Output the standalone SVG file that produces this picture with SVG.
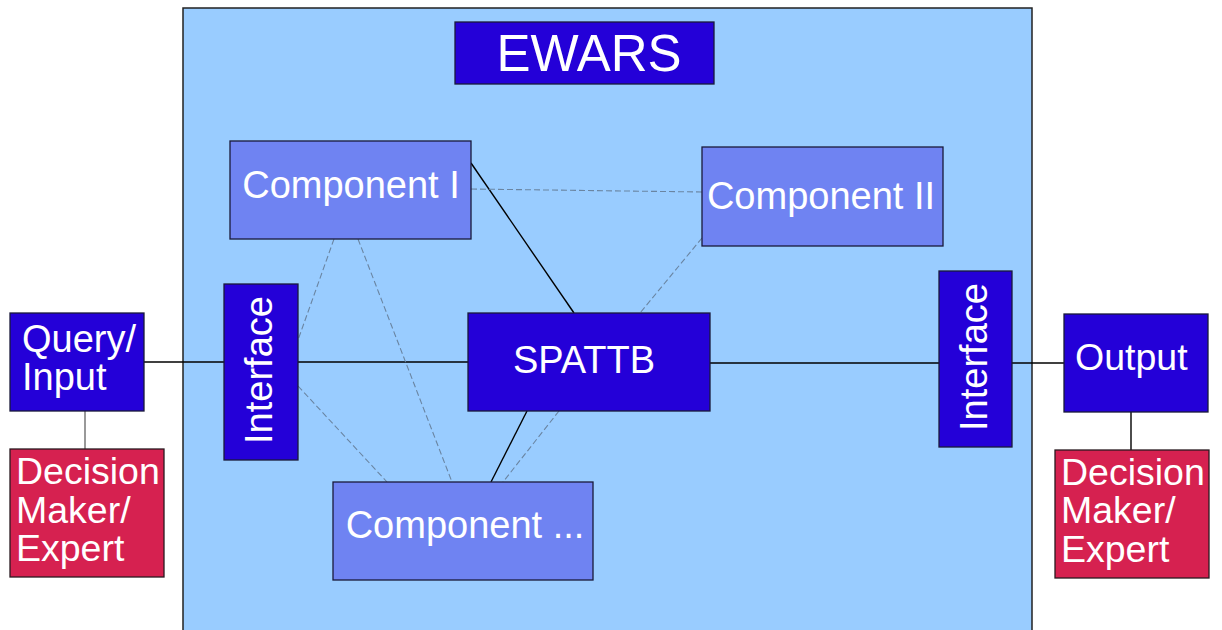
<svg xmlns="http://www.w3.org/2000/svg" width="1222" height="630" viewBox="0 0 1222 630">
  <style>
    .dark { fill: #2400d8; stroke: #1a1a3a; stroke-width: 1.3; }
    .comp { fill: #6f83f2; stroke: #1a1a3a; stroke-width: 1.3; }
    .role { fill: #d62150; stroke: #2a1a20; stroke-width: 1.3; }
    .lbl { font-family: "Liberation Sans", Arial, sans-serif; font-size: 38px; fill: #ffffff; }
    .big { font-size: 51px; }
    .role-lbl { font-size: 37.5px; }
    .solid { stroke: #000000; stroke-width: 1.4; fill: none; }
    .grey { stroke: #555555; stroke-width: 1.2; fill: none; }
    .dash { stroke: #6a85a2; stroke-width: 1.1; stroke-dasharray: 6 3; fill: none; }
  </style>

  <rect width="1222" height="630" fill="#ffffff"/>

  <!-- system boundary -->
  <g id="ewars-frame">
    <rect x="183" y="8" width="849" height="640" fill="#99ccff" stroke="#222222" stroke-width="1.5"/>
  </g>

  <!-- connectors -->
  <g id="connectors">
    <line class="solid" x1="144" y1="362" x2="224" y2="362"/>
    <line class="solid" x1="298" y1="362" x2="468" y2="362"/>
    <line class="solid" x1="710" y1="363" x2="939" y2="363"/>
    <line class="solid" x1="1012" y1="363" x2="1064" y2="363"/>
    <line class="grey" x1="85" y1="411" x2="85" y2="449"/>
    <line class="solid" x1="1131" y1="412" x2="1131" y2="450"/>
    <line class="solid" x1="471" y1="163" x2="574" y2="313"/>
    <line class="solid" x1="527" y1="411" x2="491" y2="482"/>
    <line class="dash" x1="471" y1="189" x2="702" y2="192"/>
    <line class="dash" x1="702" y1="238" x2="640" y2="313"/>
    <line class="dash" x1="334" y1="239" x2="298" y2="340"/>
    <line class="dash" x1="358" y1="239" x2="452" y2="482"/>
    <line class="dash" x1="298" y1="386" x2="387" y2="482"/>
    <line class="dash" x1="559" y1="411" x2="503" y2="482"/>
  </g>

  <g id="ewars-title">
    <rect class="dark" x="455" y="22" width="259" height="62"/>
    <text class="lbl big" x="589" y="71" text-anchor="middle">EWARS</text>
  </g>

  <g id="component-1">
    <rect class="comp" x="230" y="141" width="241" height="98"/>
    <text class="lbl" x="351" y="198" text-anchor="middle">Component I</text>
  </g>

  <g id="component-2">
    <rect class="comp" x="702" y="147" width="241" height="99"/>
    <text class="lbl" x="821" y="209" text-anchor="middle">Component II</text>
  </g>

  <g id="spattb">
    <rect class="dark" x="468" y="313" width="242" height="98"/>
    <text class="lbl" x="584" y="373" text-anchor="middle">SPATTB</text>
  </g>

  <g id="component-n">
    <rect class="comp" x="333" y="482" width="260" height="98"/>
    <text class="lbl" x="465" y="538" text-anchor="middle">Component ...</text>
  </g>

  <g id="interface-in">
    <rect class="dark" x="224" y="284" width="74" height="176"/>
    <text class="lbl" transform="translate(272 370) rotate(-90)" text-anchor="middle">Interface</text>
  </g>

  <g id="interface-out">
    <rect class="dark" x="939" y="271" width="73" height="176"/>
    <text class="lbl" transform="translate(987 357) rotate(-90)" text-anchor="middle">Interface</text>
  </g>

  <g id="query-input">
    <rect class="dark" x="10" y="313" width="134" height="98"/>
    <text class="lbl" x="22" y="352">Query/</text>
    <text class="lbl" x="22" y="390">Input</text>
  </g>

  <g id="decision-maker-in">
    <rect class="role" x="10" y="449" width="154" height="128"/>
    <text class="lbl role-lbl" x="16" y="484">Decision</text>
    <text class="lbl role-lbl" x="16" y="523">Maker/</text>
    <text class="lbl role-lbl" x="16" y="561">Expert</text>
  </g>

  <g id="output">
    <rect class="dark" x="1064" y="314" width="144" height="98"/>
    <text class="lbl role-lbl" x="1075" y="370">Output</text>
  </g>

  <g id="decision-maker-out">
    <rect class="role" x="1055" y="450" width="154" height="128"/>
    <text class="lbl role-lbl" x="1061" y="485">Decision</text>
    <text class="lbl role-lbl" x="1061" y="523">Maker/</text>
    <text class="lbl role-lbl" x="1061" y="562">Expert</text>
  </g>
</svg>
